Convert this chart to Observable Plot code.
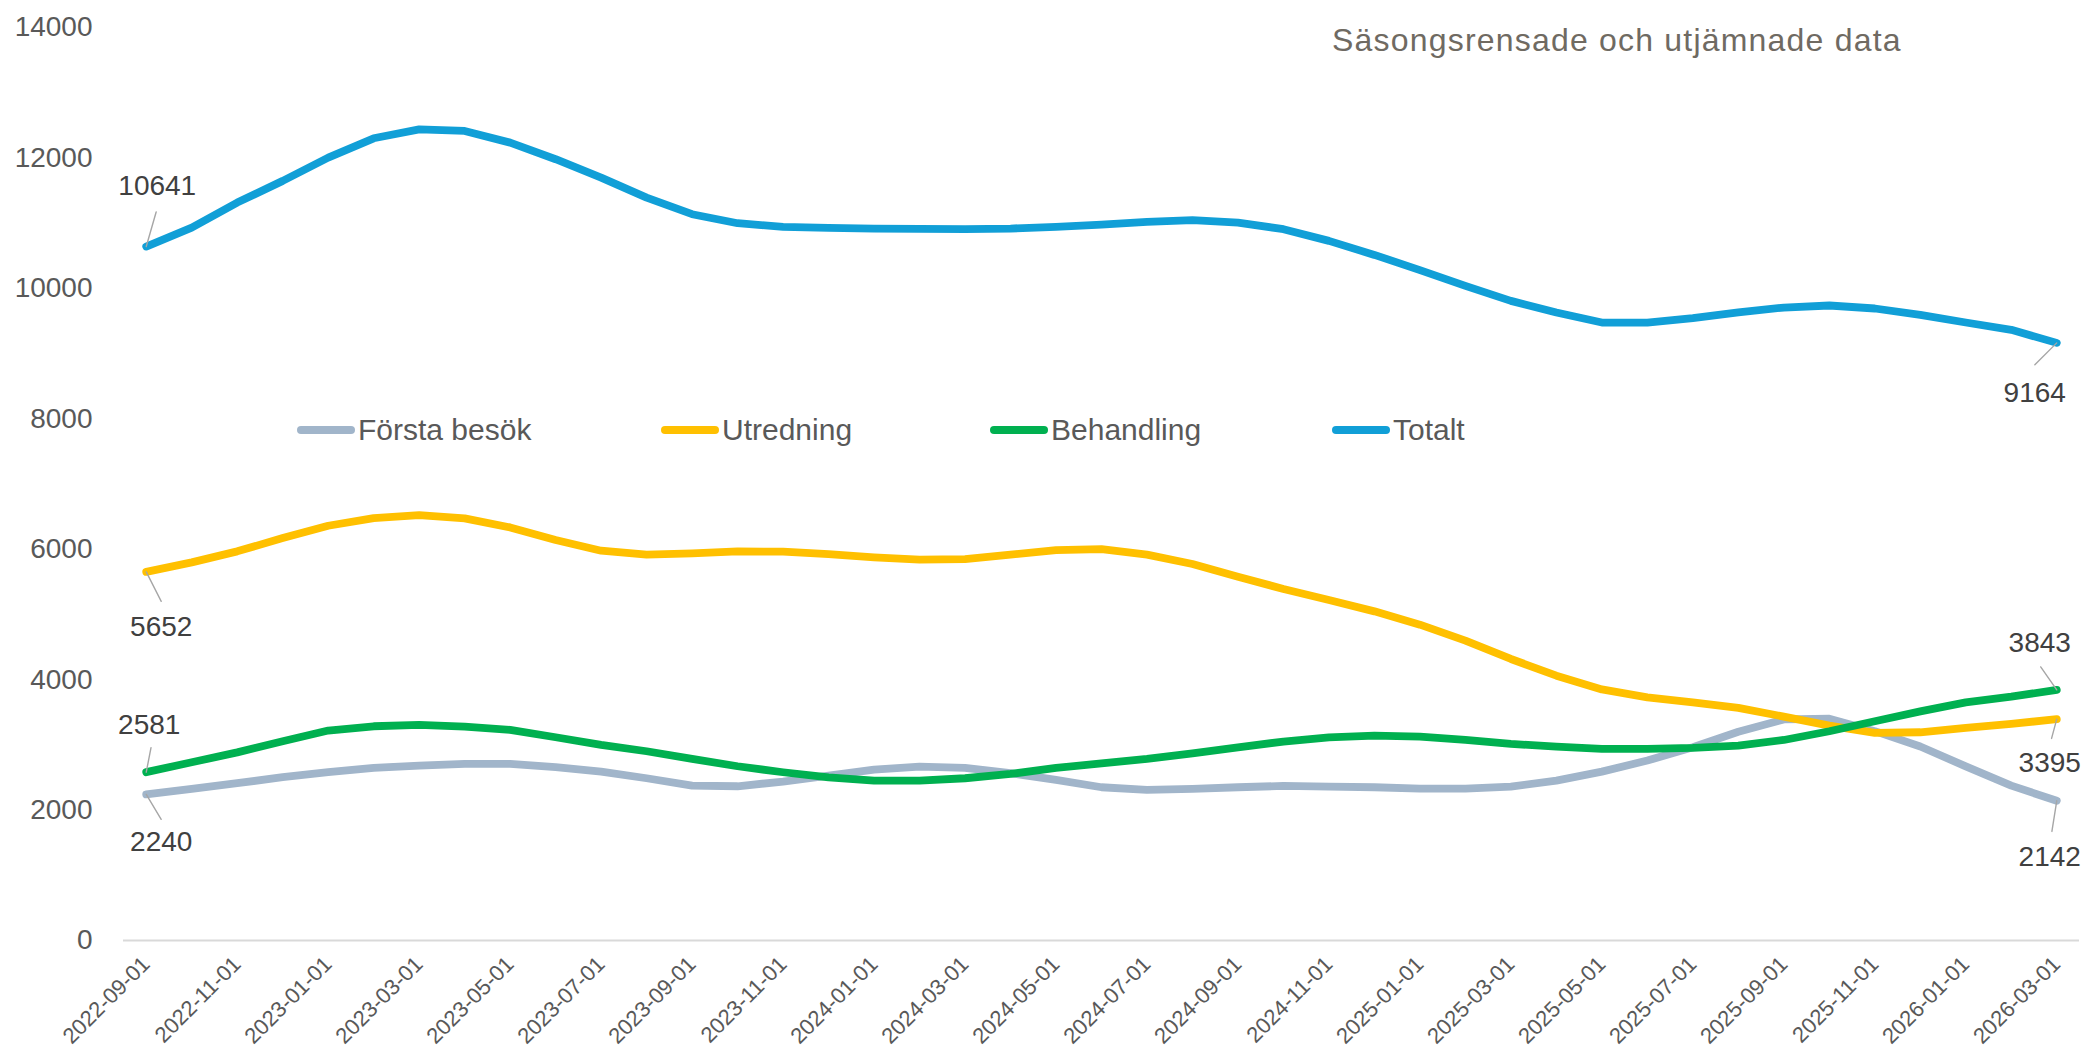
<!DOCTYPE html>
<html>
<head>
<meta charset="utf-8">
<script src="https://cdn.jsdelivr.net/npm/d3@7"></script>
<script src="https://cdn.jsdelivr.net/npm/@observablehq/plot@0.6"></script>
<style>
  html, body { margin: 0; padding: 0; background: #ffffff; }
  #wrap { position: relative; width: 2088px; height: 1054px; font-family: "Liberation Sans", Arial, sans-serif; overflow: hidden; }
  #wrap svg { position: absolute; left: 0; top: 0; }
  #title { position: absolute; left: 1332px; top: 22px; font-size: 32px; letter-spacing: 1.2px; color: #6f6a62; white-space: nowrap; }
  .leg { position: absolute; top: 413px; height: 34px; display: flex; align-items: center; font-size: 30px; color: #595959; white-space: nowrap; }
  .leg .sw { width: 58px; height: 8px; border-radius: 4px; margin-right: 3px; }
</style>
</head>
<body>
<div id="wrap"></div>
<script>
// ---- Data ----
const dates = [
  "2022-09-01","2022-10-01","2022-11-01","2022-12-01",
  "2023-01-01","2023-02-01","2023-03-01","2023-04-01","2023-05-01","2023-06-01",
  "2023-07-01","2023-08-01","2023-09-01","2023-10-01","2023-11-01","2023-12-01",
  "2024-01-01","2024-02-01","2024-03-01","2024-04-01","2024-05-01","2024-06-01",
  "2024-07-01","2024-08-01","2024-09-01","2024-10-01","2024-11-01","2024-12-01",
  "2025-01-01","2025-02-01","2025-03-01","2025-04-01","2025-05-01","2025-06-01",
  "2025-07-01","2025-08-01","2025-09-01","2025-10-01","2025-11-01","2025-12-01",
  "2026-01-01","2026-02-01","2026-03-01"
];

const forstaBesok = [
  2240, 2325, 2412, 2504, 2580, 2647, 2682, 2708, 2708, 2657,
  2590, 2488, 2375, 2365, 2437, 2529, 2621, 2667, 2646, 2565,
  2462, 2350, 2309, 2324, 2350, 2370, 2360, 2350, 2330, 2330,
  2360, 2452, 2590, 2759, 2963, 3200, 3390, 3400, 3210, 2975,
  2670, 2375, 2142
];

const utredning = [
  5652, 5798, 5967, 6171, 6360, 6478, 6524, 6473, 6334, 6141,
  5977, 5916, 5937, 5967, 5962, 5926, 5875, 5839, 5849, 5916,
  5987, 6002, 5916, 5773, 5579, 5390, 5221, 5047, 4843, 4598,
  4317, 4061, 3850, 3729, 3652, 3566, 3433, 3295, 3183, 3193,
  3259, 3321, 3395
];

const behandling = [
  2581, 2733, 2885, 3055, 3219, 3285, 3306, 3280, 3229, 3117,
  3000, 2902, 2784, 2672, 2580, 2503, 2452, 2452, 2488, 2554,
  2646, 2715, 2784, 2871, 2963, 3050, 3116, 3142, 3126, 3075,
  3014, 2973, 2937, 2937, 2953, 2989, 3075, 3208, 3361, 3514,
  3652, 3739, 3843
];

const totalt = [
  10641, 10932, 11315, 11648, 12005, 12301, 12439, 12414, 12235, 11980,
  11699, 11392, 11137, 10999, 10943, 10927, 10917, 10912, 10907, 10917,
  10943, 10978, 11019, 11045, 11009, 10907, 10728, 10513, 10279, 10038,
  9808, 9630, 9476, 9476, 9543, 9630, 9706, 9737, 9691, 9594,
  9476, 9364, 9164
];

const seriesNames = ["Första besök", "Utredning", "Behandling", "Totalt"];
const seriesValues = [forstaBesok, utredning, behandling, totalt];

const xTickLabels = [
  "2022-09-01","2022-11-01","2023-01-01","2023-03-01","2023-05-01","2023-07-01",
  "2023-09-01","2023-11-01","2024-01-01","2024-03-01","2024-05-01","2024-07-01",
  "2024-09-01","2024-11-01","2025-01-01","2025-03-01","2025-05-01","2025-07-01",
  "2025-09-01","2025-11-01","2026-01-01","2026-03-01"
];
const yTicks = [0, 2000, 4000, 6000, 8000, 10000, 12000, 14000];

const titleText = "Säsongsrensade och utjämnade data";

// ---- Styles ----
const seriesColors = ["#A1B5CA", "#FFC000", "#00B050", "#119FD7"];
const legendLeft = [297, 661, 990, 1332];
// end-point labels: series index, point index, label offset (px), leader length (px) and angle (deg, 0 = up)
const endLabelStyle = [
  {s: 3, i: 0,  dx: 11,  dy: -61, len: 36, rot: 16},
  {s: 1, i: 0,  dx: 15,  dy: 55,  len: 33, rot: 153},
  {s: 2, i: 0,  dx: 3,   dy: -47, len: 25, rot: 11},
  {s: 0, i: 0,  dx: 15,  dy: 48,  len: 29, rot: 149},
  {s: 3, i: 42, dx: -22, dy: 50,  len: 31, rot: 225},
  {s: 2, i: 42, dx: -17, dy: -47, len: 28, rot: 325},
  {s: 1, i: 42, dx: -7,  dy: 44,  len: 20, rot: 195},
  {s: 0, i: 42, dx: -7,  dy: 56,  len: 31, rot: 189}
];

// ---- Build table ----
const rows = seriesNames.flatMap((name, s) =>
  dates.map((d, i) => ({date: d, value: seriesValues[s][i], series: name}))
);

const leaderShape = {
  draw(context, l) { context.moveTo(0, 0); context.lineTo(0, -l); }
};

const lineMarks = seriesNames.map((name, s) =>
  Plot.lineY(rows.filter(r => r.series === name), {
    x: "date", y: "value",
    stroke: seriesColors[s], strokeWidth: 7.8,
    strokeLinecap: "round", strokeLinejoin: "round"
  })
);

const leaderMarks = endLabelStyle.map(L => {
  const row = {date: dates[L.i], value: seriesValues[L.s][L.i]};
  return Plot.vector([row], {
    x: "date", y: "value", length: L.len, rotate: L.rot,
    anchor: "start", shape: leaderShape,
    stroke: "#a6a6a6", strokeWidth: 1.4
  });
});

const labelMarks = endLabelStyle.map(L => {
  const row = {date: dates[L.i], value: seriesValues[L.s][L.i]};
  return Plot.text([row], {
    x: "date", y: "value", text: d => String(d.value),
    dx: L.dx, dy: L.dy, fontSize: 28, fill: "#404040"
  });
});

const chart = Plot.plot({
  width: 2088,
  height: 1054,
  marginLeft: 123,
  marginRight: 9,
  marginTop: 27,
  marginBottom: 114,
  style: {fontFamily: "'Liberation Sans', Arial, sans-serif", background: "transparent", overflow: "visible"},
  x: {type: "point", domain: dates, padding: 0.5, round: false, label: null},
  y: {domain: [0, 14000], label: null},
  marks: [
    Plot.axisY(yTicks, {tickSize: 0, tickPadding: 31, fontSize: 28, color: "#595959", tickFormat: "d", label: null}),
    Plot.axisX(xTickLabels, {tickSize: 0, tickPadding: 20, tickRotate: -45, fontSize: 22, color: "#595959", label: null}),
    Plot.ruleY([0], {stroke: "#d9d9d9", strokeWidth: 2}),
    ...lineMarks,
    ...leaderMarks,
    ...labelMarks
  ]
});

const wrap = document.getElementById("wrap");
wrap.appendChild(chart);

const title = document.createElement("div");
title.id = "title";
title.textContent = titleText;
wrap.appendChild(title);

seriesNames.forEach((name, s) => {
  const item = document.createElement("div");
  item.className = "leg";
  item.style.left = legendLeft[s] + "px";
  const sw = document.createElement("span");
  sw.className = "sw";
  sw.style.background = seriesColors[s];
  const tx = document.createElement("span");
  tx.textContent = name;
  item.appendChild(sw);
  item.appendChild(tx);
  wrap.appendChild(item);
});
</script>
</body>
</html>
